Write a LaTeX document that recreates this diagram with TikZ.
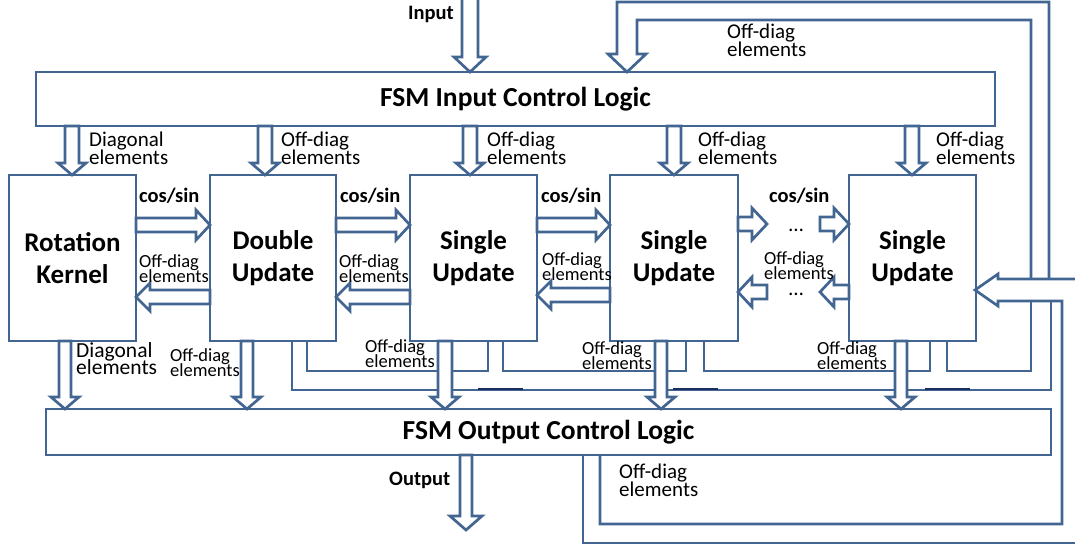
\documentclass[tikz,border=0pt]{standalone}
\usepackage{fontspec}
\setmainfont{Carlito}
\definecolor{lc}{RGB}{66,101,146}
\definecolor{navyln}{RGB}{25,45,95}
\newcommand\TightLS{\lineskiplimit=-100pt\relax}
% hollow block arrows: vertical {x}{tail y}{tip y}{shaft half}{head half}{head length (signed)}
\newcommand\HArrV[6]{\filldraw[harrow] ({#1-#4},#2) -- ({#1-#4},{#3-(#6)}) -- ({#1-#5},{#3-(#6)}) -- (#1,#3) -- ({#1+#5},{#3-(#6)}) -- ({#1+#4},{#3-(#6)}) -- ({#1+#4},#2) -- cycle;}
% horizontal {y}{tail x}{tip x}{shaft half}{head half}{head length (signed)}
\newcommand\HArrH[6]{\filldraw[harrow] (#2,{#1-#4}) -- ({#3-(#6)},{#1-#4}) -- ({#3-(#6)},{#1-#5}) -- (#3,#1) -- ({#3-(#6)},{#1+#5}) -- ({#3-(#6)},{#1+#4}) -- (#2,{#1+#4}) -- cycle;}
\tikzset{
  ln/.style={draw=lc, line width=2.7pt, line join=miter},
  harrow/.style={draw=lc, fill=white, line width=2.7pt, line join=miter},
  blk/.style={draw=lc, line width=2.7pt, rectangle, inner sep=0pt, align=center,
    minimum width=127pt, minimum height=166pt,
    font=\bfseries\fontsize{27}{32}\selectfont},
  fsm/.style={draw=lc, line width=2.7pt, rectangle, inner sep=0pt,
    font=\bfseries\fontsize{27.5}{30}\selectfont},
  lblA/.style={inner sep=0pt, anchor=north west, align=left,
    font=\fontsize{21}{17.5}\selectfont\TightLS},
  lblB/.style={inner sep=0pt, anchor=north west, align=left,
    font=\fontsize{18.5}{15}\selectfont\TightLS},
  lblD/.style={inner sep=0pt, anchor=north west, align=left,
    font=\fontsize{21.5}{17}\selectfont\TightLS},
  lblC/.style={inner sep=0pt, anchor=base west, font=\bfseries\fontsize{20.5}{24}\selectfont},
  dots/.style={inner sep=0pt, font=\fontsize{21}{24}\selectfont},
}
\begin{document}
\begin{tikzpicture}[x=1pt,y=-1pt]
\useasboundingbox (0,0) rectangle (1075,547);

% ---- merged output bus below the update blocks
\draw[ln] (292,341) -- (292,390) -- (1051,390) -- (1051,301);
\draw[ln] (307,341) -- (307,371) -- (488,371) -- (488,341);
\draw[ln] (503,341) -- (503,371) -- (686,371) -- (686,341);
\draw[ln] (704,341) -- (704,371) -- (930,371) -- (930,341);
\draw[ln] (947,341) -- (947,371) -- (1031,371) -- (1031,301);
\draw[navyln, line width=2.4pt] (478,389) -- (523,389);
\draw[navyln, line width=2.4pt] (673,389) -- (718,389);
\draw[navyln, line width=2.4pt] (925,389) -- (970,389);

% ---- feedback to the input control logic
\draw[ln] (1049,279) -- (1049,2) -- (617,2) -- (617,54) -- (608,54) -- (627,72)
          -- (646,54) -- (637,54) -- (637,20) -- (1031,20) -- (1031,279);
% ---- arrow into last Single Update and loop from output logic
\draw[ln] (1075,279) -- (998,279) -- (998,274) -- (975,290) -- (998,306) -- (998,301)
          -- (1062,301) -- (1062,524) -- (600,524) -- (600,455);
\draw[ln] (583,455) -- (583,543) -- (1075,543);

% ---- input / output arrows
\HArrV{470}{-2}{72}{8}{16}{15}
\HArrV{466}{455}{530}{6}{16}{14}

% ---- arrows from FSM input logic to blocks
\HArrV{72}{126}{175}{7}{14}{12}
\HArrV{265}{126}{175}{7}{14}{12}
\HArrV{470}{126}{175}{7}{14}{12}
\HArrV{674}{126}{175}{7}{14}{12}
\HArrV{912}{126}{175}{7}{14}{12}

% ---- arrows from blocks to FSM output logic
\HArrV{65}{341}{409}{6}{14}{12}
\HArrV{247}{341}{409}{6}{14}{12}
\HArrV{445}{341}{409}{7}{14}{12}
\HArrV{661}{341}{409}{6}{14}{12}
\HArrV{901}{341}{409}{6}{14}{12}

% ---- cos/sin arrows
\HArrH{225}{136}{210}{7}{15}{14}
\HArrH{225}{336}{410}{7}{15}{14}
\HArrH{225}{537}{610}{7}{15}{14}
\HArrH{224}{738}{767}{7}{16}{15}
\HArrH{224}{820}{849}{7}{16}{15}

% ---- off-diag back arrows
\HArrH{297}{210}{136}{7}{14}{-14}
\HArrH{297}{410}{336}{7}{14}{-14}
\HArrH{295}{610}{537}{7}{14}{-14}
\HArrH{292}{767}{738}{7}{15}{-14}
\HArrH{292}{849}{820}{7}{15}{-14}

% ---- blocks
\node[fsm, minimum width=959pt, minimum height=54pt] (fsmin) at (515.5,99) {FSM Input Control Logic};
\node[fsm, minimum width=1005pt, minimum height=46pt] (fsmout) at (548.5,432) {FSM Output Control Logic};
\node[blk] (rk)  at (72.5,258) {Rotation\\Kernel};
\node[blk, minimum width=126pt] (du)  at (273,258) {Double\\Update};
\node[blk] (su1) at (473.5,258) {Single\\Update};
\node[blk, minimum width=128pt] (su2) at (674,258) {Single\\Update};
\node[blk] (su3) at (912.5,258) {Single\\Update};

% ---- labels
\node[lblC] (tin)  at (408,19) {Input};
\node[lblC] (tout) at (389,485) {Output};
\node[lblA] (tfb)  at (727,24) {Off-diag\\elements};
\node[lblA] (tlp)  at (619,464) {Off-diag\\elements};

\node[lblA] (ti1) at (89,132) {Diagonal\\elements};
\node[lblA] (ti2) at (281,132) {Off-diag\\elements};
\node[lblA] (ti3) at (487,132) {Off-diag\\elements};
\node[lblA] (ti4) at (698,132) {Off-diag\\elements};
\node[lblA] (ti5) at (936,132) {Off-diag\\elements};

\node[lblC] (cs1) at (139,202) {cos/sin};
\node[lblC] (cs2) at (340,202) {cos/sin};
\node[lblC] (cs3) at (541,202) {cos/sin};
\node[lblC] (cs4) at (769,202) {cos/sin};
\node[dots] (dt1) at (796,230) {\ldots};
\node[dots] (dt2) at (796,294) {\ldots};

\node[lblB] (tb1) at (139,254) {Off-diag\\elements};
\node[lblB] (tb2) at (339,254) {Off-diag\\elements};
\node[lblB] (tb3) at (542,252) {Off-diag\\elements};
\node[lblB] (tb4) at (764,251) {Off-diag\\elements};

\node[lblD] (to1) at (76,342) {Diagonal\\elements};
\node[lblB] (to2) at (170,348) {Off-diag\\elements};
\node[lblB] (to3) at (365,339) {Off-diag\\elements};
\node[lblB] (to4) at (582,341) {Off-diag\\elements};
\node[lblB] (to5) at (817,341) {Off-diag\\elements};
\end{tikzpicture}
\end{document}
